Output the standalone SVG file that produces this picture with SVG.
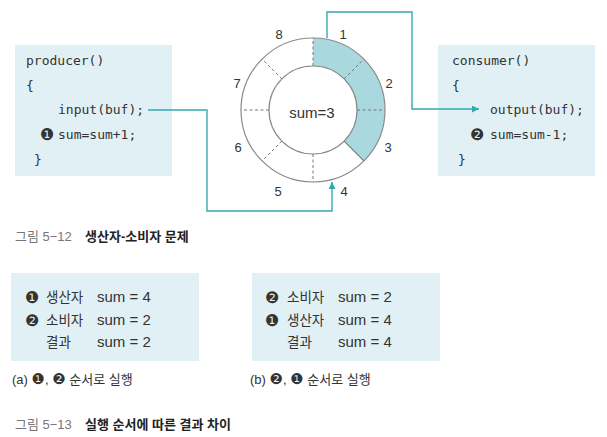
<svg xmlns="http://www.w3.org/2000/svg" width="607" height="437" viewBox="0 0 607 437">
<style>
.box{fill:#e1f0f4;}
.code{font-family:"DejaVu Sans Mono","Liberation Mono",monospace;font-size:13px;fill:#333;}
.num{font-family:"DejaVu Sans","Noto Sans CJK KR",sans-serif;fill:#333;font-size:16px;}
.lbl{font-family:"Liberation Sans",Arial,sans-serif;font-size:13px;fill:#333;text-anchor:middle;}
.ko{font-family:"Noto Sans CJK KR","Liberation Sans",sans-serif;fill:#333;font-size:13.5px;}
.sum{font-family:"Liberation Sans",Arial,sans-serif;font-size:15px;fill:#333;}
.cap{font-family:"Liberation Sans","Noto Sans CJK KR",sans-serif;font-size:13px;}
.ring{fill:none;stroke:#8a8a8a;stroke-width:1.2;}
.dash{stroke:#777;stroke-width:1;stroke-dasharray:3 2.5;}
.conn{fill:none;stroke:#35a9b3;stroke-width:1.4;}
</style>
<defs>
<marker id="ah" viewBox="0 0 10 10" refX="10" refY="5" markerWidth="7" markerHeight="7" markerUnits="userSpaceOnUse" orient="auto">
<path d="M0,0 L10,5 L0,10 Z" fill="#35a9b3"/>
</marker>
</defs>
<rect width="607" height="437" fill="#fff"/>

<g id="producer">
<rect class="box" x="15" y="45" width="157" height="131"/>
<text class="code" x="26" y="65">producer()</text>
<text class="code" x="26" y="90">{</text>
<text class="code" x="58" y="114">input(buf);</text>
<text class="num" x="40" y="140">❶</text>
<text class="code" x="58" y="139">sum=sum+1;</text>
<text class="code" x="34" y="164">}</text>
</g>

<g id="consumer">
<rect class="box" x="438" y="45" width="157" height="131"/>
<text class="code" x="452" y="65">consumer()</text>
<text class="code" x="452" y="90">{</text>
<text class="code" x="490" y="114">output(buf);</text>
<text class="num" x="470" y="140">❷</text>
<text class="code" x="490" y="139">sum=sum-1;</text>
<text class="code" x="458" y="164">}</text>
</g>

<g id="buffer">
<path d="M313,38 A72,72 0 0 1 363.91,160.91 L344.11,141.11 A44,44 0 0 0 313,66 Z" fill="#a9d9df"/>
<circle class="ring" cx="313" cy="110" r="72"/>
<circle class="ring" cx="313" cy="110" r="44"/>
<line class="dash" x1="313" y1="66" x2="313" y2="38"/>
<line class="dash" x1="344.11" y1="78.89" x2="363.91" y2="59.09"/>
<line class="dash" x1="357" y1="110" x2="385" y2="110"/>
<line class="dash" x1="313" y1="154" x2="313" y2="182"/>
<line class="dash" x1="281.89" y1="141.11" x2="262.09" y2="160.91"/>
<line class="dash" x1="269" y1="110" x2="241" y2="110"/>
<line class="dash" x1="281.89" y1="78.89" x2="262.09" y2="59.09"/>
<line x1="344.11" y1="141.11" x2="363.91" y2="160.91" stroke="#777" stroke-width="1.2"/>
<text class="lbl" x="343" y="39">1</text>
<text class="lbl" x="389" y="88">2</text>
<text class="lbl" x="388" y="152">3</text>
<text class="lbl" x="344" y="196">4</text>
<text class="lbl" x="278" y="196">5</text>
<text class="lbl" x="238" y="152">6</text>
<text class="lbl" x="237" y="88">7</text>
<text class="lbl" x="279" y="39">8</text>
<text x="312" y="118" font-family="Liberation Sans,Arial,sans-serif" font-size="15" fill="#333" text-anchor="middle">sum=3</text>
</g>

<g id="connectors">
<polyline class="conn" points="148,110 207,110 207,211 332,211 332,182" marker-end="url(#ah)"/>
<polyline class="conn" points="327,38 327,12 412,12 412,109 479,109" marker-end="url(#ah)"/>
</g>

<g id="caption1">
<text class="cap" x="15" y="241"><tspan fill="#777">그림 5−12</tspan><tspan x="85" font-weight="bold" fill="#222">생산자-소비자 문제</tspan></text>
</g>

<g id="case-a">
<rect class="box" x="11" y="273" width="188" height="88"/>
<text class="num" x="25" y="303">❶</text>
<text class="ko" x="46" y="302">생산자</text>
<text class="sum" x="97" y="302">sum = 4</text>
<text class="num" x="25" y="326">❷</text>
<text class="ko" x="46" y="325">소비자</text>
<text class="sum" x="97" y="325">sum = 2</text>
<text class="ko" x="46" y="347">결과</text>
<text class="sum" x="97" y="347">sum = 2</text>
<text class="cap" x="12" y="384" fill="#333">(a) <tspan font-family="DejaVu Sans" font-size="15">❶</tspan>, <tspan font-family="DejaVu Sans" font-size="15">❷</tspan> 순서로 실행</text>
</g>

<g id="case-b">
<rect class="box" x="252" y="273" width="188" height="88"/>
<text class="num" x="265" y="303">❷</text>
<text class="ko" x="287" y="302">소비자</text>
<text class="sum" x="338" y="302">sum = 2</text>
<text class="num" x="265" y="326">❶</text>
<text class="ko" x="287" y="325">생산자</text>
<text class="sum" x="338" y="325">sum = 4</text>
<text class="ko" x="287" y="347">결과</text>
<text class="sum" x="338" y="347">sum = 4</text>
<text class="cap" x="250" y="384" fill="#333">(b) <tspan font-family="DejaVu Sans" font-size="15">❷</tspan>, <tspan font-family="DejaVu Sans" font-size="15">❶</tspan> 순서로 실행</text>
</g>

<g id="caption2">
<text class="cap" x="15" y="429"><tspan fill="#777">그림 5−13</tspan><tspan x="85" font-weight="bold" fill="#222">실행 순서에 따른 결과 차이</tspan></text>
</g>
</svg>
